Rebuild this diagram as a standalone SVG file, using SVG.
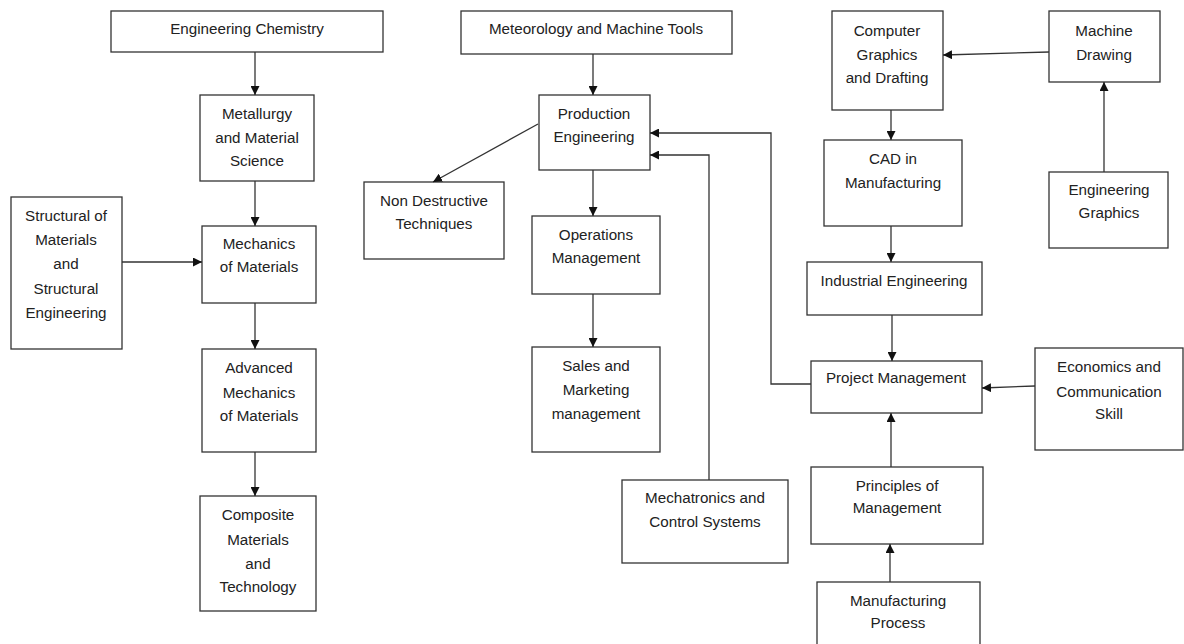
<svg xmlns="http://www.w3.org/2000/svg" width="1184" height="644" viewBox="0 0 1184 644">
  <style>
    .box { fill: #ffffff; stroke: #333333; stroke-width: 1.3; }
    .lbl { font-family: "Liberation Sans", Arial, sans-serif; font-size: 15.2px; fill: #222222; text-anchor: middle; }
    .edge { fill: none; stroke: #333333; stroke-width: 1.3; marker-end: url(#arrow); }
  </style>
  <defs>
    <marker id="arrow" viewBox="0 0 10 10" refX="10" refY="5" markerUnits="userSpaceOnUse" markerWidth="9" markerHeight="9" orient="auto">
      <path d="M0,0 L10,5 L0,10 z" fill="#111111"/>
    </marker>
  </defs>
  <rect width="1184" height="644" fill="#ffffff"/>

  <!-- left column -->
  <g id="engineering-chemistry">
    <rect class="box" x="111" y="11" width="272" height="41"/>
    <text class="lbl" x="247" y="34">Engineering Chemistry</text>
  </g>
  <g id="metallurgy">
    <rect class="box" x="200" y="95" width="114" height="86"/>
    <text class="lbl" x="257" y="119">Metallurgy</text>
    <text class="lbl" x="257" y="143">and Material</text>
    <text class="lbl" x="257" y="166">Science</text>
  </g>
  <g id="structural">
    <rect class="box" x="11" y="197" width="111" height="152"/>
    <text class="lbl" x="66" y="221">Structural of</text>
    <text class="lbl" x="66" y="245">Materials</text>
    <text class="lbl" x="66" y="269">and</text>
    <text class="lbl" x="66" y="294">Structural</text>
    <text class="lbl" x="66" y="318">Engineering</text>
  </g>
  <g id="mechanics">
    <rect class="box" x="202" y="226" width="114" height="77"/>
    <text class="lbl" x="259" y="249">Mechanics</text>
    <text class="lbl" x="259" y="272">of Materials</text>
  </g>
  <g id="advanced-mechanics">
    <rect class="box" x="202" y="349" width="114" height="103"/>
    <text class="lbl" x="259" y="373">Advanced</text>
    <text class="lbl" x="259" y="398">Mechanics</text>
    <text class="lbl" x="259" y="421">of Materials</text>
  </g>
  <g id="composite">
    <rect class="box" x="200" y="496" width="116" height="115"/>
    <text class="lbl" x="258" y="520">Composite</text>
    <text class="lbl" x="258" y="545">Materials</text>
    <text class="lbl" x="258" y="569">and</text>
    <text class="lbl" x="258" y="592">Technology</text>
  </g>

  <!-- middle column -->
  <g id="meteorology">
    <rect class="box" x="461" y="11" width="271" height="43"/>
    <text class="lbl" x="596" y="34">Meteorology and Machine Tools</text>
  </g>
  <g id="production">
    <rect class="box" x="539" y="95" width="111" height="75"/>
    <text class="lbl" x="594" y="119">Production</text>
    <text class="lbl" x="594" y="142">Engineering</text>
  </g>
  <g id="non-destructive">
    <rect class="box" x="364" y="182" width="140" height="77"/>
    <text class="lbl" x="434" y="206">Non Destructive</text>
    <text class="lbl" x="434" y="229">Techniques</text>
  </g>
  <g id="operations">
    <rect class="box" x="532" y="216" width="128" height="78"/>
    <text class="lbl" x="596" y="240">Operations</text>
    <text class="lbl" x="596" y="263">Management</text>
  </g>
  <g id="sales">
    <rect class="box" x="532" y="347" width="128" height="105"/>
    <text class="lbl" x="596" y="371">Sales and</text>
    <text class="lbl" x="596" y="395">Marketing</text>
    <text class="lbl" x="596" y="419">management</text>
  </g>
  <g id="mechatronics">
    <rect class="box" x="622" y="480" width="166" height="83"/>
    <text class="lbl" x="705" y="503">Mechatronics and</text>
    <text class="lbl" x="705" y="527">Control Systems</text>
  </g>

  <!-- right columns -->
  <g id="computer-graphics">
    <rect class="box" x="832" y="11" width="111" height="99"/>
    <text class="lbl" x="887" y="36">Computer</text>
    <text class="lbl" x="887" y="60">Graphics</text>
    <text class="lbl" x="887" y="83">and Drafting</text>
  </g>
  <g id="machine-drawing">
    <rect class="box" x="1049" y="11" width="111" height="71"/>
    <text class="lbl" x="1104" y="36">Machine</text>
    <text class="lbl" x="1104" y="60">Drawing</text>
  </g>
  <g id="engineering-graphics">
    <rect class="box" x="1049" y="172" width="119" height="76"/>
    <text class="lbl" x="1109" y="195">Engineering</text>
    <text class="lbl" x="1109" y="218">Graphics</text>
  </g>
  <g id="cad">
    <rect class="box" x="824" y="140" width="138" height="86"/>
    <text class="lbl" x="893" y="164">CAD in</text>
    <text class="lbl" x="893" y="188">Manufacturing</text>
  </g>
  <g id="industrial">
    <rect class="box" x="807" y="262" width="175" height="53"/>
    <text class="lbl" x="894" y="286">Industrial Engineering</text>
  </g>
  <g id="project">
    <rect class="box" x="811" y="361" width="171" height="52"/>
    <text class="lbl" x="896" y="383">Project Management</text>
  </g>
  <g id="economics">
    <rect class="box" x="1035" y="348" width="148" height="102"/>
    <text class="lbl" x="1109" y="372">Economics and</text>
    <text class="lbl" x="1109" y="397">Communication</text>
    <text class="lbl" x="1109" y="419">Skill</text>
  </g>
  <g id="principles">
    <rect class="box" x="811" y="467" width="172" height="77"/>
    <text class="lbl" x="897" y="491">Principles of</text>
    <text class="lbl" x="897" y="513">Management</text>
  </g>
  <g id="manufacturing-process">
    <rect class="box" x="817" y="582" width="163" height="70"/>
    <text class="lbl" x="898" y="606">Manufacturing</text>
    <text class="lbl" x="898" y="628">Process</text>
  </g>

  <!-- connectors -->
  <g id="connectors">
    <line class="edge" x1="255" y1="52" x2="255" y2="95"/>
    <line class="edge" x1="255" y1="181" x2="255" y2="226"/>
    <line class="edge" x1="122" y1="262" x2="202" y2="262"/>
    <line class="edge" x1="255" y1="303" x2="255" y2="349"/>
    <line class="edge" x1="255" y1="452" x2="255" y2="496"/>

    <line class="edge" x1="593" y1="54" x2="593" y2="95"/>
    <line class="edge" x1="538" y1="124" x2="433" y2="182"/>
    <line class="edge" x1="593" y1="170" x2="593" y2="216"/>
    <line class="edge" x1="593" y1="294" x2="593" y2="347"/>
    <polyline class="edge" points="811,384 771,384 771,133 650,133"/>
    <polyline class="edge" points="709,480 709,155 650,155"/>

    <line class="edge" x1="1049" y1="52" x2="943" y2="55"/>
    <line class="edge" x1="1104" y1="172" x2="1104" y2="82"/>
    <line class="edge" x1="891" y1="110" x2="891" y2="140"/>
    <line class="edge" x1="891" y1="226" x2="891" y2="262"/>
    <line class="edge" x1="892" y1="315" x2="892" y2="361"/>
    <line class="edge" x1="1035" y1="386" x2="982" y2="388"/>
    <line class="edge" x1="891" y1="467" x2="891" y2="413"/>
    <line class="edge" x1="890" y1="582" x2="890" y2="544"/>
  </g>
</svg>
